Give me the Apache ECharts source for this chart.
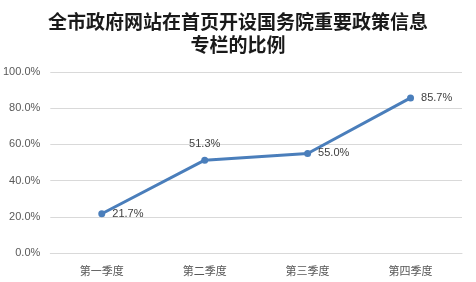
<!DOCTYPE html>
<html><head><meta charset="utf-8">
<script src="https://cdn.jsdelivr.net/npm/echarts@6/dist/echarts.min.js"></script>
<style>html,body{margin:0;padding:0;background:#fff}#c{width:476px;height:282px}</style>
</head><body><div id="c"></div>
<script>
const categories = ['第一季度', '第二季度', '第三季度', '第四季度'];
const values = [21.7, 51.3, 55.0, 85.7];
const labelPositions = ['right', 'top', 'right', 'right'];
const titleText = '全市政府网站在首页开设国务院重要政策信息\n专栏的比例';

const chart = echarts.init(document.getElementById('c'));
chart.setOption({
  animation: false,
  title: {
    text: titleText, left: 'center', top: 5,
    textStyle: { fontFamily: 'Noto Sans CJK SC', fontWeight: 'bold', fontSize: 19, lineHeight: 23, color: '#1a1a1a' }
  },
  grid: { left: 50, right: 14, top: 72, bottom: 29 },
  xAxis: {
    type: 'category', data: categories,
    axisLine: { lineStyle: { color: '#d9d9d9' } },
    axisTick: { show: false },
    axisLabel: { color: '#595959', fontSize: 11, margin: 12, fontFamily: 'Noto Sans CJK SC' }
  },
  yAxis: {
    type: 'value', min: 0, max: 100, interval: 20,
    axisLabel: { formatter: v => v.toFixed(1) + '%', color: '#595959', fontSize: 11, margin: 10, fontFamily: 'Liberation Sans' },
    splitLine: { lineStyle: { color: '#d9d9d9' } },
    axisLine: { show: false }, axisTick: { show: false }
  },
  series: [{
    type: 'line',
    data: values.map((v, i) => ({ value: v, label: { position: labelPositions[i] } })),
    symbol: 'circle', symbolSize: 7,
    lineStyle: { color: '#4a7ebb', width: 3 },
    itemStyle: { color: '#4a7ebb' },
    label: { show: true, formatter: p => p.value.toFixed(1) + '%', color: '#404040', fontSize: 11, fontFamily: 'Liberation Sans', distance: 7 }
  }]
});
</script></body></html>
